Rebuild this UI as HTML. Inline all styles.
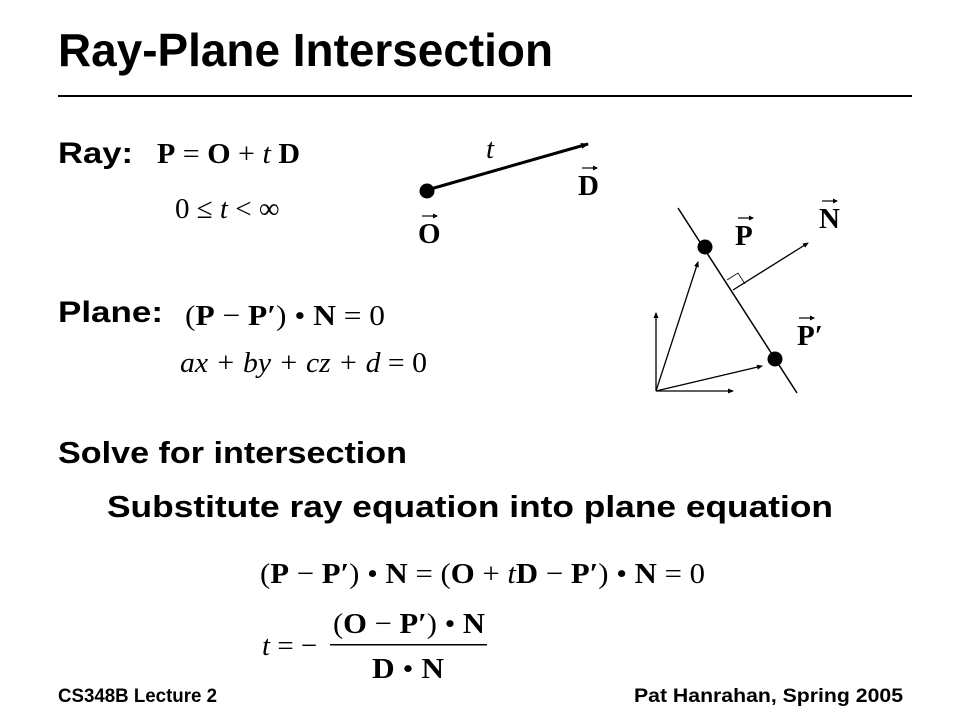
<!DOCTYPE html>
<html><head><style>
body{margin:0;width:960px;height:720px;background:#fff;overflow:hidden}
</style></head><body>
<svg width="960" height="720" xmlns="http://www.w3.org/2000/svg">
<defs>
<marker id="ah" markerWidth="8" markerHeight="8" refX="7" refY="4" orient="auto" markerUnits="userSpaceOnUse"><path d="M0,1 L8,4 L0,7 z" fill="#000"/></marker>
<marker id="as" markerWidth="6" markerHeight="6" refX="5" refY="3" orient="auto" markerUnits="userSpaceOnUse"><path d="M0,0.5 L6,3 L0,5.5 z" fill="#000"/></marker>
<marker id="av" markerWidth="5" markerHeight="5" refX="4" refY="2.5" orient="auto" markerUnits="userSpaceOnUse"><path d="M0,0 L5,2.5 L0,5 z" fill="#000"/></marker>
</defs>
<g font-family="Liberation Sans, sans-serif" font-weight="bold" fill="#000">
<text x="58" y="66" font-size="46" textLength="495" lengthAdjust="spacingAndGlyphs">Ray-Plane Intersection</text>
<text x="58" y="163" font-size="30" textLength="75" lengthAdjust="spacingAndGlyphs">Ray:</text>
<text x="58" y="322" font-size="30" textLength="105" lengthAdjust="spacingAndGlyphs">Plane:</text>
<text x="58" y="463" font-size="31" textLength="349" lengthAdjust="spacingAndGlyphs">Solve for intersection</text>
<text x="107" y="517" font-size="31" textLength="726" lengthAdjust="spacingAndGlyphs">Substitute ray equation into plane equation</text>
<text x="58" y="702" font-size="19" textLength="159" lengthAdjust="spacingAndGlyphs">CS348B Lecture 2</text>
<text x="634" y="702" font-size="19" textLength="269" lengthAdjust="spacingAndGlyphs">Pat Hanrahan, Spring 2005</text>
</g>
<rect x="58" y="95" width="854" height="2" fill="#000"/>
<g font-family="Liberation Serif, serif" font-size="29" fill="#000">
<text x="157" y="163" textLength="143" lengthAdjust="spacingAndGlyphs"><tspan font-weight="bold">P</tspan> = <tspan font-weight="bold">O</tspan> + <tspan font-style="italic">t</tspan> <tspan font-weight="bold">D</tspan></text>
<text x="175" y="218">0 ≤ <tspan font-style="italic">t</tspan> &lt; ∞</text>
<text x="185" y="325" textLength="200" lengthAdjust="spacingAndGlyphs">(<tspan font-weight="bold">P</tspan> − <tspan font-weight="bold">P′</tspan>) • <tspan font-weight="bold">N</tspan> = 0</text>
<text x="180" y="372" font-style="italic" textLength="247" lengthAdjust="spacingAndGlyphs">ax + by + cz + d <tspan font-style="normal">= 0</tspan></text>
<text x="260" y="583" textLength="445" lengthAdjust="spacingAndGlyphs">(<tspan font-weight="bold">P</tspan> − <tspan font-weight="bold">P′</tspan>) • <tspan font-weight="bold">N</tspan> = (<tspan font-weight="bold">O</tspan> + <tspan font-style="italic">t</tspan><tspan font-weight="bold">D</tspan> − <tspan font-weight="bold">P′</tspan>) • <tspan font-weight="bold">N</tspan> = 0</text>
<text x="262" y="655"><tspan font-style="italic">t</tspan> = −</text>
<text x="333" y="633" textLength="152" lengthAdjust="spacingAndGlyphs">(<tspan font-weight="bold">O</tspan> − <tspan font-weight="bold">P′</tspan>) • <tspan font-weight="bold">N</tspan></text>
<text x="372" y="678" textLength="72" lengthAdjust="spacingAndGlyphs"><tspan font-weight="bold">D</tspan> • <tspan font-weight="bold">N</tspan></text>
<text x="486" y="158" font-style="italic">t</text>
<text x="578" y="195" font-weight="bold">D</text>
<text x="418" y="243" font-weight="bold">O</text>
<text x="735" y="245" font-weight="bold">P</text>
<text x="819" y="228" font-weight="bold">N</text>
<text x="797" y="345" font-weight="bold">P′</text>
</g>
<g stroke="#000" stroke-width="1.2" marker-end="url(#av)">
<line x1="582" y1="168" x2="597" y2="168"/>
<line x1="422" y1="216" x2="437" y2="216"/>
<line x1="738" y1="218" x2="753" y2="218"/>
<line x1="822" y1="201" x2="837" y2="201"/>
<line x1="799" y1="318" x2="814" y2="318"/>
</g>
<rect x="330" y="644" width="157" height="1.5" fill="#000"/>
<g stroke="#000" fill="none">
<line x1="427" y1="190" x2="588" y2="144" stroke-width="3" marker-end="url(#ah)"/>
<line x1="678" y1="208" x2="797" y2="393" stroke-width="1.5"/>
<line x1="733" y1="290" x2="808" y2="243" stroke-width="1.3" marker-end="url(#as)"/>
<path d="M727,280 L738,273 L745,284" stroke-width="0.8"/>
<line x1="656" y1="391" x2="656" y2="313" stroke-width="1.3" marker-end="url(#as)"/>
<line x1="656" y1="391" x2="733" y2="391" stroke-width="1.3" marker-end="url(#as)"/>
<line x1="656" y1="391" x2="698" y2="262" stroke-width="1.3" marker-end="url(#as)"/>
<line x1="656" y1="391" x2="762" y2="366" stroke-width="1.3" marker-end="url(#as)"/>
</g>
<circle cx="427" cy="191" r="7.5"/>
<circle cx="705" cy="247" r="7.5"/>
<circle cx="775" cy="359" r="7.5"/>
</svg>
</body></html>
